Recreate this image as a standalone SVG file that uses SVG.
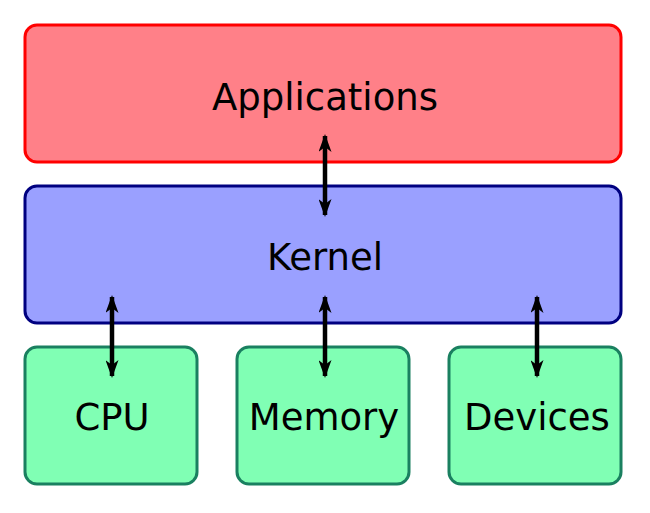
<svg xmlns="http://www.w3.org/2000/svg" width="650" height="513" viewBox="0 0 650 513">
<style>
text{font-family:"DejaVu Sans","Liberation Sans",sans-serif;font-size:37px;fill:#000;text-anchor:middle}
.box{stroke-width:3}
.app{fill:#ff8088;stroke:#ff0000}
.ker{fill:#9aa0ff;stroke:#000080}
.hw{fill:#80ffb4;stroke:#1a8060}
.arr{stroke:#000;stroke-width:4.5;fill:none;marker-start:url(#h);marker-end:url(#h)}
</style>
<defs>
<marker id="h" viewBox="0 0 18 13" refX="16" refY="6.5" markerWidth="18" markerHeight="13" markerUnits="userSpaceOnUse" orient="auto-start-reverse">
<path d="M0,0 L18,6.5 L0,13 L5,6.5 Z" fill="#000"/>
</marker>
</defs>
<rect width="650" height="513" fill="#fff"/>
<g id="applications"><rect class="box app" x="25" y="25" width="596" height="137" rx="12"/><text x="325" y="110">Applications</text></g>
<g id="kernel"><rect class="box ker" x="25" y="186" width="596" height="137" rx="12"/><text x="325" y="270">Kernel</text></g>
<g id="cpu"><rect class="box hw" x="25" y="347" width="172" height="137" rx="12"/><text x="112" y="430">CPU</text></g>
<g id="memory"><rect class="box hw" x="237" y="347" width="172" height="137" rx="12"/><text x="324" y="430">Memory</text></g>
<g id="devices"><rect class="box hw" x="449" y="347" width="172" height="137" rx="12"/><text x="537" y="430">Devices</text></g>
<g id="connectors">
<line class="arr" x1="325" y1="136" x2="325" y2="215"/>
<line class="arr" x1="112" y1="297" x2="112" y2="376"/>
<line class="arr" x1="325" y1="297" x2="325" y2="376"/>
<line class="arr" x1="537" y1="297" x2="537" y2="376"/>
</g>
</svg>
